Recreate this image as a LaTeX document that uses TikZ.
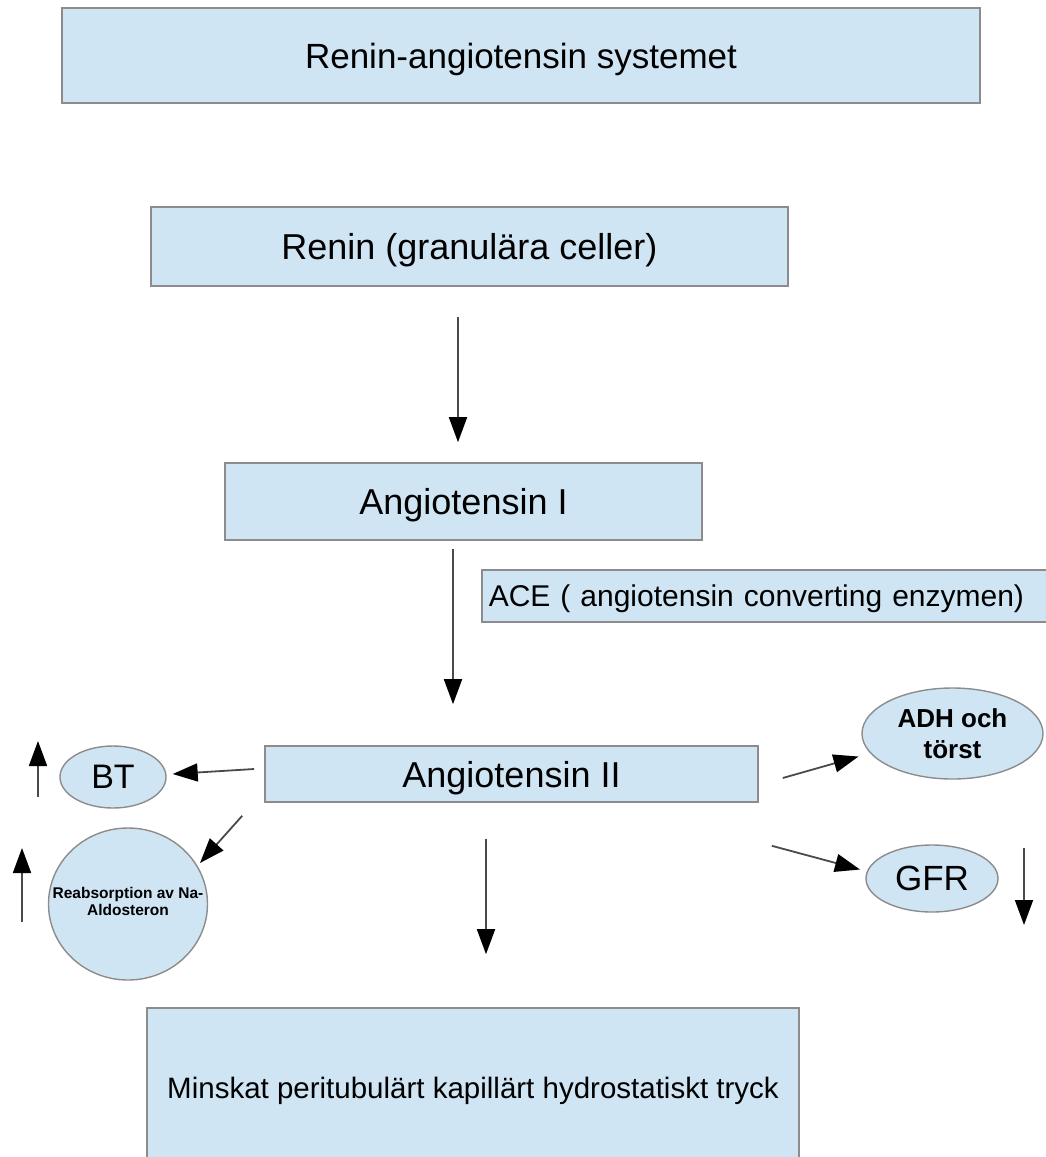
\documentclass[tikz,border=0pt]{standalone}
\usepackage{fontspec}
\setmainfont{Liberation Sans}
\usetikzlibrary{arrows.meta,shapes.geometric}
\definecolor{boxfill}{HTML}{CFE5F3}
\definecolor{boxline}{HTML}{8C8C8C}
\definecolor{arrline}{HTML}{4A4A4A}
\newcommand{\fs}[1]{\fontsize{#1}{#1}\selectfont}
\tikzset{
  box/.style={draw=boxline, line width=1.6pt, fill=boxfill, inner sep=0pt, anchor=center, text depth=0pt},
  oval/.style={ellipse, draw=boxline, line width=1.4pt, fill=boxfill, inner sep=0pt, align=center},
  arr/.style={draw=arrline, line width=1.8pt, -{Triangle[length=25pt,width=18pt,color=black]}},
}
\begin{document}
\begin{tikzpicture}[x=1pt,y=-1pt]
\useasboundingbox (0,0) rectangle (1045,1157);
% boxes
\node[box, minimum width=918pt, minimum height=95pt, font=\fs{35}] (title) at (521,55.5) {Renin-angiotensin systemet};
\node[box, minimum width=637pt, minimum height=79pt, font=\fs{36}] (renin) at (469.5,246.5) {Renin (granulära celler)};
\node[box, minimum width=477pt, minimum height=77pt, font=\fs{36}] (ang1) at (463.5,501.5) {Angiotensin I};
\node[box, minimum width=590pt, minimum height=52pt, font=\fs{30}, anchor=west, align=left, text width=576pt, inner xsep=7pt] (ace) at (481,596) {ACE ( angiotensin converting enzymen)};
\node[box, minimum width=493pt, minimum height=56pt, font=\fs{36}] (ang2) at (511.5,774) {Angiotensin II};
\node[box, minimum width=652pt, minimum height=170pt, font=\fs{29.5}] (bottom) at (473,1093) {\raisebox{11pt}{Minskat peritubulärt kapillärt hydrostatiskt tryck}};
% ovals
\node[oval, minimum width=106pt, minimum height=62pt, font=\fs{34}] (bt) at (113,777) {BT};
\node[oval, minimum width=159pt, minimum height=152pt, font=\bfseries\fs{15.5}] (circ) at (128,904) {\makebox[0pt]{\begin{tabular}{@{}c@{}}Reabsorption av Na-\\[1pt]Aldosteron\end{tabular}}};
\node[oval, minimum width=181pt, minimum height=91pt, font=\bfseries\fs{26}] (adh) at (952.5,733.5) {ADH och\\[5pt]törst};
\node[oval, minimum width=132pt, minimum height=67pt, font=\fs{35}] (gfr) at (932,878.5) {GFR};
% connectors
\draw[arr] ([xshift=-11.5pt,yshift=-30pt]renin.south) -- ([xshift=-5.5pt,yshift=20pt]ang1.north);
\draw[arr] ([xshift=-10.5pt,yshift=-8pt]ang1.south) -- ([xshift=-58.5pt,yshift=41pt]ang2.north);
\draw[arr] ([xshift=-10pt,yshift=5pt]ang2.west) -- ([xshift=6pt,yshift=3pt]bt.east);
\draw[arr] ([xshift=-22pt,yshift=-13pt]ang2.south west) -- ([xshift=72pt,yshift=41pt]circ.center);
\draw[arr] ([xshift=24pt,yshift=-4pt]ang2.east) -- ([xshift=-94pt,yshift=-23pt]adh.center);
\draw[arr] ([xshift=13pt,yshift=-43pt]ang2.south east) -- ([xshift=-72pt,yshift=9pt]gfr.center);
\draw[arr] ([xshift=-25.5pt,yshift=-36pt]ang2.south) -- ([xshift=13pt,yshift=53pt]bottom.north);
% free indicator arrows
\coordinate (u1a) at (38,797); \coordinate (u1b) at (38,741);
\coordinate (u2a) at (22,922); \coordinate (u2b) at (22,848);
\coordinate (d1a) at (1024,848); \coordinate (d1b) at (1024,925);
\draw[arr] (u1a) -- (u1b);
\draw[arr] (u2a) -- (u2b);
\draw[arr] (d1a) -- (d1b);
\end{tikzpicture}
\end{document}
